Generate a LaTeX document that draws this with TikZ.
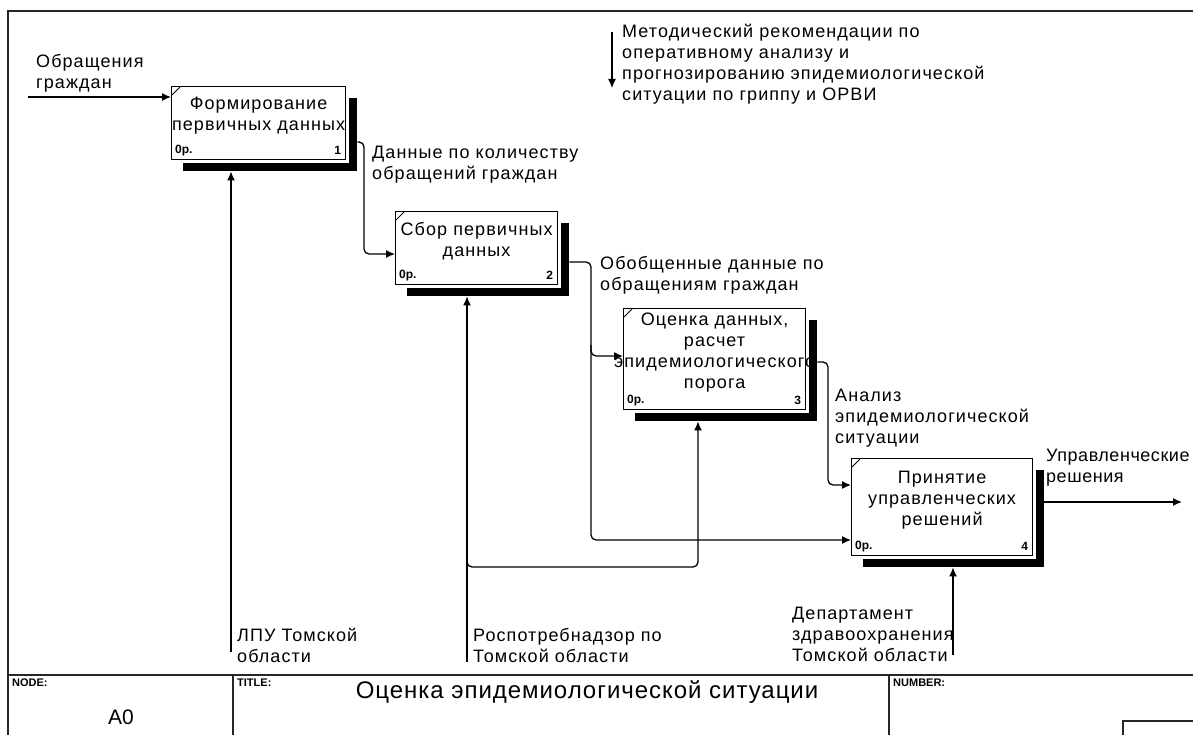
\documentclass[tikz,border=0pt]{standalone}
\usepackage{fontspec}
\setmainfont{Liberation Sans}
\newfontfamily\lblfont[LetterSpace=6]{Liberation Sans}
\newfontfamily\narrowlblfont[LetterSpace=3]{Liberation Sans}
\newfontfamily\ttlfont[LetterSpace=4]{Liberation Sans}
\usetikzlibrary{arrows.meta}

\begin{document}
\begin{tikzpicture}[x=1pt,y=-1pt,
  frame/.style={draw=black!85, line width=1.8pt},
  shadowbox/.style={fill=black, draw=none, anchor=north west, inner sep=0pt},
  fnbox/.style={draw=black, line width=1.2pt, fill=white, anchor=north west, inner sep=0pt,
    preaction={draw=white, line width=6pt}},
  boxtxt/.style={font={\lblfont\fontsize{18}{21}\selectfont}, align=center, inner sep=0pt},
  lbl/.style={font={\lblfont\fontsize{18}{21}\selectfont}, align=left, inner sep=0pt, anchor=north west},
  cost/.style={font={\bfseries\fontsize{12}{13}\selectfont}, inner sep=0pt},
  hdr/.style={font={\bfseries\fontsize{11}{12}\selectfont}, inner sep=0pt, anchor=north west},
  conn/.style={draw=black, line width=1.3pt, rounded corners=5pt},
  tip/.style={-{Latex[length=9pt,width=8pt]}}
]
\useasboundingbox (0,0) rectangle (1193,735);

% drawing frame and title block
\draw[frame] (8,735) -- (8,11) -- (1193,11);
\draw[frame] (8,675) -- (1193,675);
\draw[frame] (233,675) -- (233,735);
\draw[frame] (889,675) -- (889,735);
\draw[draw=black!85, line width=1.4pt] (1123,735) -- (1123,721) -- (1193,721);

\node[hdr] (nodehdr) at (12,679) {NODE:};
\node[hdr] (titlehdr) at (237,679) {TITLE:};
\node[hdr] (numhdr) at (893,679) {NUMBER:};
\node[font={\fontsize{21}{24}\selectfont}] (nodeno) at (121,717) {A0};
\node[font={\ttlfont\fontsize{24}{28}\selectfont}] (title) at (587,692) {Оценка эпидемиологической ситуации};

% activity boxes with their shadows
\coordinate (p1) at (171,86);
\coordinate (p2) at (395,211);
\coordinate (p3) at (623,308);
\coordinate (p4) at (851,458);

\node[shadowbox, minimum width=174pt, minimum height=73pt] (s1) at ([shift={(12,12)}]p1) {};
\node[shadowbox, minimum width=162pt, minimum height=73pt] (s2) at ([shift={(12,12)}]p2) {};
\node[shadowbox, minimum width=182pt, minimum height=101pt] (s3) at ([shift={(12,12)}]p3) {};
\node[shadowbox, minimum width=181pt, minimum height=97pt] (s4) at ([shift={(12,12)}]p4) {};

\node[fnbox, minimum width=174pt, minimum height=73pt] (b1) at (p1) {};
\node[fnbox, minimum width=162pt, minimum height=73pt] (b2) at (p2) {};
\node[fnbox, minimum width=182pt, minimum height=101pt] (b3) at (p3) {};
\node[fnbox, minimum width=181pt, minimum height=97pt] (b4) at (p4) {};

\foreach \b/\n in {b1/1,b2/2,b3/3,b4/4}{
  \draw[line width=0.8pt] ([shift={(1,9)}]\b.north west) -- ([shift={(9,1)}]\b.north west);
  \node[cost, anchor=west] at ([shift={(4,-10)}]\b.south west) {0р.};
  \node[cost, anchor=east] at ([shift={(-5,-10)}]\b.south east) {\n};
}

\node[boxtxt] (t1) at ([yshift=7pt]b1.center) {Формирование\\первичных данных};
\node[boxtxt] (t2) at ([yshift=7pt]b2.center) {Сбор первичных\\данных};
\node[boxtxt] (t3) at ([yshift=7pt]b3.center) {Оценка данных,\\расчет\\эпидемиологического\\порога};
\node[boxtxt] (t4) at ([yshift=7pt]b4.center) {Принятие\\управленческих\\решений};

% free ends of boundary arrows
\coordinate (in1) at (28,97);
\coordinate (out1) at (1182,502);
\coordinate (ctl0) at (612,32);
\coordinate (ctl1) at (612,88);
\coordinate (m1) at (231,652);
\coordinate (m2) at (467,662);
\coordinate (m3) at (953,655);
\coordinate (j12) at (364,142);
\coordinate (j23) at (591,262);
\coordinate (j34) at (828,362);
\coordinate (j2b) at (698,567);

% input, outputs and controls
\draw[conn, tip] (in1) -- (in1 -| b1.west);
\draw[conn, tip] (j12 -| s1.east) -- (j12) -- (j12 |- 0,254) -- (b2.west |- 0,254);
\draw[conn, tip] (j23 -| s2.east) -- (j23) -- (j23 |- 0,356) -- (b3.west |- 0,356);
\draw[conn, tip] (j23 |- 0,345) -- (j23 |- 0,540) -- (b4.west |- 0,540);
\draw[conn, tip] (j34 -| s3.east) -- (j34) -- (j34 |- 0,485) -- (b4.west |- 0,485);
\draw[conn, tip] (out1 -| s4.east) -- (out1);
\draw[conn, tip] (ctl0) -- (ctl1);

% mechanisms
\draw[conn, tip] (m1) -- (m1 |- s1.south);
\draw[conn, tip] (m2) -- (m2 |- s2.south);
\draw[conn, tip] (m2 |- 0,550) -- (m2 |- j2b) -- (j2b) -- (j2b |- s3.south);
\draw[conn, tip] (m3) -- (m3 |- s4.south);

% arrow labels
\node[lbl] (l1) at (36,54) {Обращения\\граждан};
\node[lbl] (l2) at (372,146) {Данные по количеству\\обращений граждан};
\node[lbl] (l3) at (600,256) {Обобщенные данные по\\обращениям граждан};
\node[lbl] (l4) at (835,389) {Анализ\\эпидемиологической\\ситуации};
\node[lbl, font={\narrowlblfont\fontsize{18}{21}\selectfont}] (l5) at (1046,449) {Управленческие\\решения};
\node[lbl] (l6) at (622,24) {Методический рекомендации по\\оперативному анализу и\\прогнозированию эпидемиологической\\ситуации по гриппу и ОРВИ};
\node[lbl] (l7) at (237,628) {ЛПУ Томской\\области};
\node[lbl] (l8) at (473,628) {Роспотребнадзор по\\Томской области};
\node[lbl] (l9) at (792,607) {Департамент\\здравоохранения\\Томской области};
\end{tikzpicture}
\end{document}
